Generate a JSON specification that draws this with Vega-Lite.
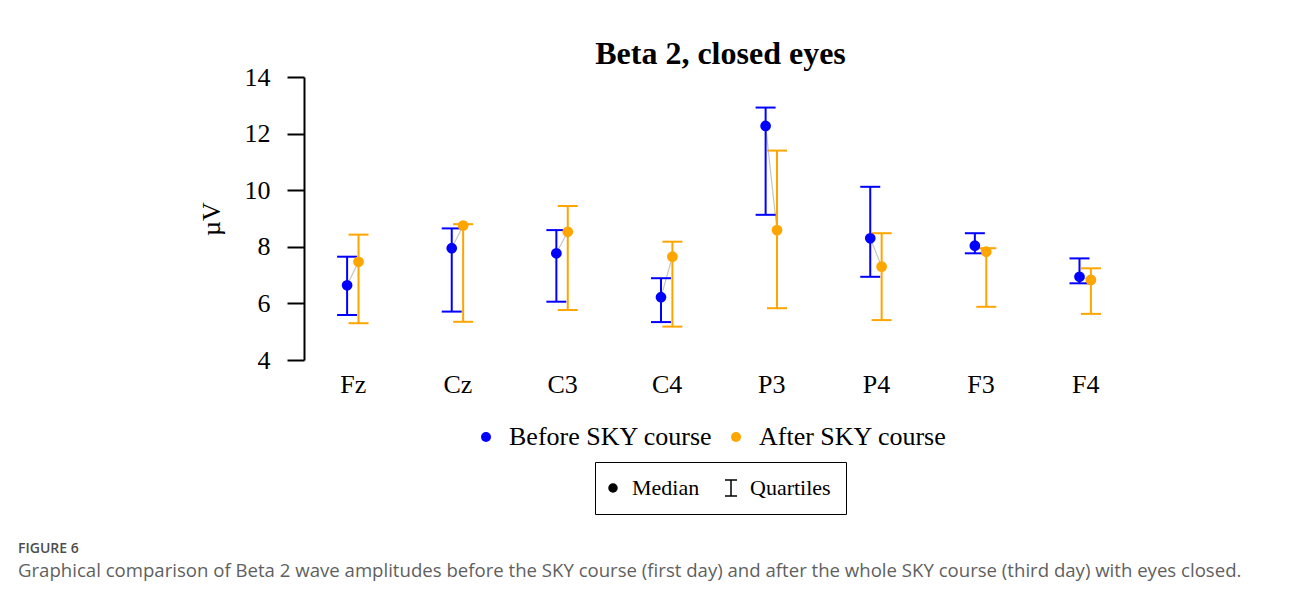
{
  "$schema": "https://vega.github.io/schema/vega-lite/v6.json",
  "width": 830,
  "height": 283,
  "autosize": {"type": "none"},
  "padding": {"left": 304, "top": 77, "right": 156, "bottom": 250},
  "background": "white",
  "config": {"view": {"stroke": null}, "font": "Liberation Serif"},
  "title": {
    "text": "FIGURE 6",
    "subtitle": "Graphical comparison of Beta 2 wave amplitudes before the SKY course (first day) and after the whole SKY course (third day) with eyes closed.",
    "orient": "bottom",
    "anchor": "start",
    "frame": "group",
    "dx": -286,
    "offset": 27,
    "font": "Open Sans",
    "fontSize": 14,
    "fontWeight": 600,
    "color": "#4d4d4d",
    "subtitleFont": "Open Sans",
    "subtitleFontSize": 18.6,
    "subtitleColor": "#5f5f5f",
    "subtitlePadding": 6
  },
  "datasets": {
    "stats": [
      {"electrode": "Fz", "group": "Before SKY course", "median": 6.64, "q1": 5.59, "q3": 7.65},
      {"electrode": "Fz", "group": "After SKY course", "median": 7.47, "q1": 5.30, "q3": 8.43},
      {"electrode": "Cz", "group": "Before SKY course", "median": 7.95, "q1": 5.71, "q3": 8.65},
      {"electrode": "Cz", "group": "After SKY course", "median": 8.75, "q1": 5.35, "q3": 8.80},
      {"electrode": "C3", "group": "Before SKY course", "median": 7.77, "q1": 6.06, "q3": 8.59},
      {"electrode": "C3", "group": "After SKY course", "median": 8.53, "q1": 5.77, "q3": 9.44},
      {"electrode": "C4", "group": "Before SKY course", "median": 6.22, "q1": 5.34, "q3": 6.89},
      {"electrode": "C4", "group": "After SKY course", "median": 7.65, "q1": 5.18, "q3": 8.18},
      {"electrode": "P3", "group": "Before SKY course", "median": 12.27, "q1": 9.13, "q3": 12.92},
      {"electrode": "P3", "group": "After SKY course", "median": 8.59, "q1": 5.83, "q3": 11.40},
      {"electrode": "P4", "group": "Before SKY course", "median": 8.30, "q1": 6.94, "q3": 10.12},
      {"electrode": "P4", "group": "After SKY course", "median": 7.30, "q1": 5.41, "q3": 8.48},
      {"electrode": "F3", "group": "Before SKY course", "median": 8.04, "q1": 7.77, "q3": 8.48},
      {"electrode": "F3", "group": "After SKY course", "median": 7.83, "q1": 5.88, "q3": 7.95},
      {"electrode": "F4", "group": "Before SKY course", "median": 6.94, "q1": 6.71, "q3": 7.59},
      {"electrode": "F4", "group": "After SKY course", "median": 6.83, "q1": 5.63, "q3": 7.24}
    ]
  },
  "data": {"name": "stats"},
  "layer": [
    {
      "transform": [{"pivot": "group", "value": "median", "groupby": ["electrode"]}],
      "mark": {"type": "rule", "color": "#c4c4c4", "strokeWidth": 1.2, "xOffset": -5.7, "x2Offset": 5.7},
      "encoding": {
        "x": {
          "field": "electrode",
          "type": "nominal",
          "scale": {"type": "point", "domain": ["Fz", "Cz", "C3", "C4", "P3", "P4", "F3", "F4"], "padding": 0.4665},
          "axis": {
            "orient": "top",
            "labels": false,
            "ticks": false,
            "domain": false,
            "title": "Beta 2, closed eyes",
            "titleFont": "Liberation Serif",
            "titleFontSize": 32,
            "titleFontWeight": "bold",
            "titleColor": "black",
            "titlePadding": 7,
            "titleX": 416
          }
        },
        "x2": {"field": "electrode"},
        "y": {
          "field": "Before SKY course",
          "type": "quantitative",
          "scale": {"domain": [4, 14], "nice": false, "zero": false},
          "axis": {
            "values": [4, 6, 8, 10, 12, 14],
            "grid": false,
            "tickSize": 17,
            "tickWidth": 2,
            "tickColor": "black",
            "domainColor": "black",
            "domainWidth": 2,
            "labelFont": "Liberation Serif",
            "labelFontSize": 26,
            "labelColor": "black",
            "labelPadding": 17,
            "title": "µV",
            "titleFont": "Liberation Serif",
            "titleFontSize": 26,
            "titleFontWeight": "normal",
            "titleColor": "black",
            "titlePadding": 20
          }
        },
        "y2": {"field": "After SKY course"}
      }
    },
    {
      "transform": [{"filter": "datum.group === 'Before SKY course'"}],
      "mark": {"type": "rule", "strokeWidth": 2, "xOffset": -5.7},
      "encoding": {
        "x": {
          "field": "electrode",
          "type": "nominal",
          "axis": {
            "orient": "bottom",
            "domain": false,
            "ticks": false,
            "labelAngle": 0,
            "labelFont": "Liberation Serif",
            "labelFontSize": 26,
            "labelColor": "black",
            "labelPadding": 11,
            "title": null
          }
        },
        "y": {"field": "q1", "type": "quantitative"},
        "y2": {"field": "q3"},
        "color": {
          "field": "group",
          "type": "nominal",
          "scale": {"domain": ["Before SKY course", "After SKY course"], "range": ["#0000ff", "#ffa500"]},
          "legend": {
            "orient": "none",
            "legendX": 169,
            "legendY": 347,
            "direction": "horizontal",
            "title": null,
            "symbolType": "circle",
            "symbolSize": 100,
            "symbolStrokeWidth": 0,
            "labelFont": "Liberation Serif",
            "labelFontSize": 26,
            "labelColor": "black",
            "labelLimit": 500,
            "labelOffset": 10,
            "columnPadding": 10,
            "padding": 0
          }
        }
      }
    },
    {
      "transform": [{"filter": "datum.group === 'Before SKY course'"}],
      "mark": {"type": "tick", "orient": "horizontal", "size": 20, "thickness": 2, "xOffset": -5.7, "opacity": 1},
      "encoding": {
        "x": {"field": "electrode", "type": "nominal", "axis": null},
        "y": {"field": "q1", "type": "quantitative"},
        "color": {"field": "group", "type": "nominal"}
      }
    },
    {
      "transform": [{"filter": "datum.group === 'Before SKY course'"}],
      "mark": {"type": "tick", "orient": "horizontal", "size": 20, "thickness": 2, "xOffset": -5.7, "opacity": 1},
      "encoding": {
        "x": {"field": "electrode", "type": "nominal", "axis": null},
        "y": {"field": "q3", "type": "quantitative"},
        "color": {"field": "group", "type": "nominal"}
      }
    },
    {
      "transform": [{"filter": "datum.group === 'After SKY course'"}],
      "mark": {"type": "rule", "strokeWidth": 2, "xOffset": 5.7},
      "encoding": {
        "x": {"field": "electrode", "type": "nominal", "axis": null},
        "y": {"field": "q1", "type": "quantitative"},
        "y2": {"field": "q3"},
        "color": {"field": "group", "type": "nominal"}
      }
    },
    {
      "transform": [{"filter": "datum.group === 'After SKY course'"}],
      "mark": {"type": "tick", "orient": "horizontal", "size": 20, "thickness": 2, "xOffset": 5.7, "opacity": 1},
      "encoding": {
        "x": {"field": "electrode", "type": "nominal", "axis": null},
        "y": {"field": "q1", "type": "quantitative"},
        "color": {"field": "group", "type": "nominal"}
      }
    },
    {
      "transform": [{"filter": "datum.group === 'After SKY course'"}],
      "mark": {"type": "tick", "orient": "horizontal", "size": 20, "thickness": 2, "xOffset": 5.7, "opacity": 1},
      "encoding": {
        "x": {"field": "electrode", "type": "nominal", "axis": null},
        "y": {"field": "q3", "type": "quantitative"},
        "color": {"field": "group", "type": "nominal"}
      }
    },
    {
      "transform": [{"filter": "datum.group === 'Before SKY course'"}],
      "mark": {"type": "point", "filled": true, "size": 115, "opacity": 1, "xOffset": -5.7},
      "encoding": {
        "x": {"field": "electrode", "type": "nominal", "axis": null},
        "y": {"field": "median", "type": "quantitative"},
        "color": {"field": "group", "type": "nominal"},
        "shape": {
          "datum": "Median",
          "scale": {"domain": ["Median", "Quartiles"], "range": ["circle", "M-1.5,-2H1.5M0,-2V2M-1.5,2H1.5"]},
          "legend": {
            "orient": "none",
            "legendX": 291,
            "legendY": 385,
            "direction": "horizontal",
            "title": null,
            "strokeColor": "black",
            "padding": 15,
            "symbolSize": 64,
            "symbolOffset": -8,
            "symbolFillColor": "black",
            "symbolStrokeColor": "black",
            "symbolStrokeWidth": 1.5,
            "labelFont": "Liberation Serif",
            "labelFontSize": 22,
            "labelColor": "black",
            "labelLimit": 300,
            "labelOffset": 8,
            "columnPadding": 22,
            "encode": {
              "legend": {"update": {"strokeWidth": {"value": 1.5}}},
              "symbols": {"update": {"fill": {"value": "black"}, "stroke": {"value": "black"}, "opacity": {"value": 1}}}
            }
          }
        }
      }
    },
    {
      "transform": [{"filter": "datum.group === 'After SKY course'"}],
      "mark": {"type": "point", "filled": true, "size": 115, "opacity": 1, "xOffset": 5.7},
      "encoding": {
        "x": {"field": "electrode", "type": "nominal", "axis": null},
        "y": {"field": "median", "type": "quantitative"},
        "color": {"field": "group", "type": "nominal"},
        "shape": {"datum": "Median"}
      }
    }
  ],
  "resolve": {"axis": {"x": "independent"}}
}
